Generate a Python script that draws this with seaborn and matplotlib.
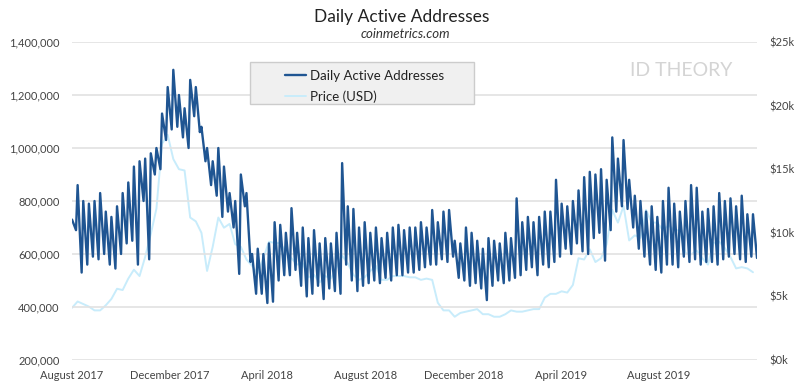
import numpy as np
import pandas as pd
import matplotlib
matplotlib.use("Agg")
import matplotlib.pyplot as plt
import seaborn as sns
from matplotlib.ticker import FuncFormatter, FixedLocator
from matplotlib.patches import Rectangle

# ---------------- data ----------------
start_date = "2017-08-22"
# weekly weekday highs / weekend lows of daily active addresses, in thousands
daa_high = [730, 860, 800, 790, 800, 830, 760, 740, 780, 830, 870, 930, 950, 960, 980, 1000,
            1130, 1230, 1295, 1200, 1150, 1257, 1230, 1080, 1000, 950, 1000, 930, 830, 800,
            900, 830, 600, 620, 600, 640, 720, 710, 680, 773, 680, 700, 660, 690, 640, 660,
            640, 680, 943, 780, 770, 700, 720, 680, 700, 660, 680, 700, 710, 690, 700, 700,
            720, 700, 766, 720, 760, 766, 650, 640, 700, 680, 650, 620, 660, 650, 640, 680,
            660, 810, 720, 740, 720, 740, 760, 760, 880, 790, 780, 800, 840, 890, 910, 900,
            920, 880, 1040, 960, 1030, 880, 820, 800, 760, 780, 740, 800, 850, 790, 760, 800,
            860, 850, 760, 770, 780, 830, 800, 810, 780, 820, 750, 750]
daa_low = [690, 530, 560, 590, 580, 600, 560, 545, 600, 640, 650, 560, 800, 580, 900, 920,
           1030, 1070, 1080, 1040, 1000, 1120, 1060, 950, 860, 820, 740, 760, 700, 525,
           780, 570, 450, 450, 415, 420, 500, 520, 520, 540, 480, 440, 450, 480, 430, 470,
           460, 450, 560, 500, 460, 480, 490, 500, 490, 510, 500, 520, 520, 530, 530, 540,
           550, 560, 560, 580, 570, 590, 510, 500, 480, 490, 470, 426, 480, 500, 490, 500,
           510, 520, 540, 550, 520, 560, 550, 570, 590, 620, 600, 640, 610, 600, 660, 680,
           575, 690, 760, 780, 770, 700, 620, 590, 560, 540, 530, 560, 560, 550, 590, 570,
           580, 560, 570, 570, 560, 580, 590, 600, 580, 570, 590, 585]
# weekly BTC price, thousands of USD
price_k = [4.1, 4.6, 4.4, 4.2, 3.9, 3.9, 4.3, 4.8, 5.6, 5.5, 6.4, 7.1, 6.6, 8.1, 9.9, 11.9,
           17.0, 17.7, 15.8,
           15.0, 14.9, 11.2, 10.9, 10.0, 7.0, 8.9, 11.2, 10.4, 10.7, 9.1, 8.9, 7.9, 7.4, 6.8,
           8.0, 9.3, 9.2, 9.2, 8.5, 8.0, 7.5, 7.6, 6.5, 6.7, 6.1, 6.6, 6.4, 7.3, 8.2, 7.6,
           6.7, 6.3, 6.5, 7.0, 7.4, 6.3, 6.3, 6.6, 6.6, 6.6, 6.5, 6.5, 6.3, 6.4, 6.3, 4.5,
           3.9, 3.9, 3.4, 3.7, 3.8,
           3.9, 4.0, 3.6, 3.6, 3.4, 3.4, 3.6, 3.9, 3.8, 3.8, 3.9, 4.0, 4.0, 4.9, 5.2, 5.2,
           5.4, 5.3, 5.9, 8.0, 7.9, 8.7, 7.7, 8.0, 9.1, 11.8, 10.8, 12.1, 9.4, 9.8, 9.6,
           11.8, 10.8, 10.8, 10.2, 10.6, 10.2, 10.2, 8.4, 8.3, 8.6, 8.0, 7.5, 9.2, 9.3, 8.8,
           8.1, 7.2, 7.3, 7.2, 6.9]
tick_dates = ["2017-08-22", "2017-12-22", "2018-04-22", "2018-08-22",
              "2018-12-22", "2019-04-22", "2019-08-22"]
tick_labels = ["August 2017", "December 2017", "April 2018", "August 2018",
               "December 2018", "April 2019", "August 2019"]
left_ticks = [200000, 400000, 600000, 800000, 1000000, 1200000, 1400000]
right_ticks = [0, 5000, 10000, 15000, 20000, 25000]

# ---------------- build frames ----------------
weeks = pd.date_range(start_date, periods=len(daa_high), freq="7D")
daa = pd.DataFrame({
    "date": list(weeks) + list(weeks + pd.Timedelta(days=5)),
    "value": [v * 1000 for v in daa_high] + [v * 1000 for v in daa_low],
}).sort_values("date")
price = pd.DataFrame({"date": pd.date_range(start_date, periods=len(price_k), freq="7D"),
                      "price": [p * 1000 for p in price_k]})

sns.set_theme(style="white")
plt.rcParams["font.family"] = ["Lato", "DejaVu Sans"]

W, H = 804, 390
fig = plt.figure(figsize=(W / 100, H / 100), dpi=100)
ax = fig.add_axes([72 / W, 1 - 360 / H, 685 / W, 318 / H])
ax2 = ax.twinx()

dark = "#1f5592"
light = "#c8ecfb"
sns.lineplot(data=price, x="date", y="price", ax=ax2, color=light, lw=1.4, label="Price (USD)", legend=False)
sns.lineplot(data=daa, x="date", y="value", ax=ax, color=dark, lw=1.7, label="Daily Active Addresses", legend=False)

ax.set_zorder(ax2.get_zorder() + 1)
ax.patch.set_visible(False)

ax.set_ylim(200000, 1400000)
ax2.set_ylim(0, 25000)
ax.set_xlim(daa["date"].min(), daa["date"].max())

ax.yaxis.set_major_locator(FixedLocator(left_ticks))
ax.yaxis.set_major_formatter(FuncFormatter(lambda v, p: f"{int(v):,}"))
ax2.yaxis.set_major_locator(FixedLocator(right_ticks))
ax2.yaxis.set_major_formatter(FuncFormatter(lambda v, p: f"${int(v/1000)}k"))

ax.set_xticks(pd.to_datetime(tick_dates))
ax.set_xticklabels(tick_labels)

ax.grid(axis="y", color="#e2e2e2", lw=1.2)
ax.grid(axis="x", visible=False)
ax2.grid(False)
ax.set_axisbelow(True)
for a in (ax, ax2):
    for s in a.spines.values():
        s.set_visible(False)
    a.set_xlabel("")
    a.set_ylabel("")
ax.tick_params(axis="y", length=0, pad=9, labelsize=8, labelcolor="#444444")
ax.tick_params(axis="x", length=0, pad=7, labelsize=8, labelcolor="#444444")
ax2.tick_params(axis="y", length=0, pad=9, labelsize=8, labelcolor="#444444")

fig.text(0.5, 1 - 17 / H, "Daily Active Addresses", ha="center", va="center",
         fontsize=12.5, color="#222222")
fig.text(0.504, 1 - 34 / H, "coinmetrics.com", ha="center", va="center",
         fontsize=9.5, style="italic", color="#333333")

fig.patches.append(Rectangle((250 / W, 1 - 104 / H), 224 / W, 42 / H, transform=fig.transFigure,
                             facecolor="#f0f0f0", edgecolor="#cccccc", lw=1, zorder=3))
h1 = ax.get_lines()[0]
h2 = ax2.get_lines()[0]
fig.legend([h1, h2], ["Daily Active Addresses", "Price (USD)"], loc="upper left",
           bbox_to_anchor=(278 / W, 1 - 63 / H), frameon=False, borderpad=0,
           fontsize=9.5, handlelength=1.65, handletextpad=0.25, labelspacing=0.65,
           labelcolor="#222222")

fig.text(681 / W, 1 - 70 / H, "ID THEORY", ha="center", va="center", fontsize=14,
         color="#d4d4d4")

fig.savefig("out.png", dpi=100)
